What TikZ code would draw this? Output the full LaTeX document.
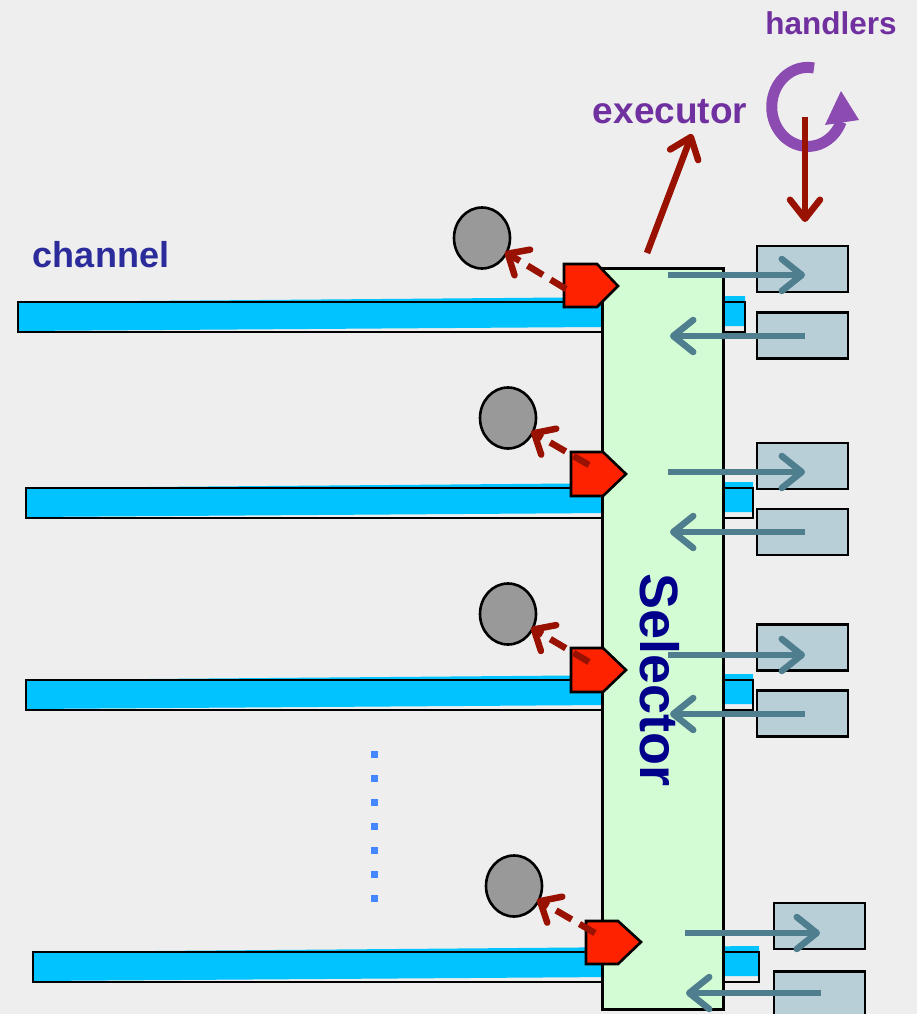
\documentclass[tikz,border=0pt]{standalone}
\usepackage{fontspec}
\setmainfont{Liberation Sans}
\usetikzlibrary{arrows.meta,shapes.geometric}
\definecolor{bg}{HTML}{EEEEEE}
\definecolor{chcyan}{HTML}{00C3FF}
\definecolor{selfill}{HTML}{D4FCD4}
\definecolor{tagred}{HTML}{FF2200}
\definecolor{darkred}{HTML}{991100}
\definecolor{ballgray}{HTML}{999999}
\definecolor{hbox}{HTML}{B8CFD8}
\definecolor{teal}{HTML}{4F7F8F}
\definecolor{purpletext}{HTML}{7030A0}
\definecolor{purpleloop}{HTML}{8B4BB0}
\definecolor{chtext}{HTML}{2B2B9B}
\definecolor{seltext}{HTML}{00008B}
\definecolor{dotblue}{HTML}{4488FF}
\tikzset{
  outline/.style={draw=black, line width=2.6pt},
  ball/.style={ellipse, draw=black, line width=2.6pt, fill=ballgray, minimum width=56pt, minimum height=61pt, inner sep=0pt},
  handlerbox/.style={draw=black, line width=2.6pt, fill=hbox, minimum width=91pt, minimum height=46pt, inner sep=0pt},
  tag/.style={draw=black, line width=2.6pt, fill=tagred, line join=miter},
  dasharrow/.style={draw=darkred, line width=6.5pt, dash pattern=on 18pt off 9pt, -{Straight Barb[length=17pt, width=30pt, line cap=round, line join=round]}, shorten >=-3pt},
  tealarrow/.style={draw=teal, line width=6.5pt, -{Straight Barb[length=20pt, width=32pt, line cap=round, line join=round]}},
  redarrow/.style={draw=darkred, line width=6.5pt, -{Straight Barb[length=19pt, width=30pt, line cap=round, line join=round]}},
  lbl/.style={font=\bfseries\fontsize{36}{40}\selectfont, inner sep=0pt, anchor=base},
}
\begin{document}
\begin{tikzpicture}[x=1pt, y=-1pt]
\fill[bg] (0,0) rectangle (917,1014);
\useasboundingbox (0,0) rectangle (917,1014);

% channels
\fill[chcyan] (18,302) -- (745,296) -- (745,326) -- (18,331) -- cycle;
\draw[outline] (18,302) rectangle (745,332);
\fill[chcyan] (26,488) -- (753,482) -- (753,512) -- (26,517) -- cycle;
\draw[outline] (26,488) rectangle (753,518);
\fill[chcyan] (26,680) -- (753,674) -- (753,704) -- (26,709) -- cycle;
\draw[outline] (26,680) rectangle (753,710);
\fill[chcyan] (33,952) -- (759,946) -- (759,976) -- (33,981) -- cycle;
\draw[outline] (33,952) rectangle (759,982);

% selector
\node[draw=black, line width=2.6pt, fill=selfill, minimum width=121pt, minimum height=741pt, inner sep=0pt, anchor=north west] (sel) at (601,267) {};
\node[font=\bfseries\fontsize{54}{60}\selectfont, text=seltext, rotate=-90, inner sep=0pt] (seltxt) at (660,680) {Selector};

% balls
\node[ball] (c1) at (482,238) {};
\node[ball] (c2) at (508,418) {};
\node[ball] (c3) at (508,614) {};
\node[ball] (c4) at (514,886) {};

% tags
\draw[tag] (564,264) -- (597,264) -- (618,286) -- (597,307) -- (564,307) -- cycle;
\draw[tag] (571,452) -- (603,452) -- (626,474) -- (603,496) -- (571,496) -- cycle;
\draw[tag] (571,648) -- (603,648) -- (626,670) -- (603,692) -- (571,692) -- cycle;
\draw[tag] (586,921) -- (618,921) -- (641,942) -- (618,964) -- (586,964) -- cycle;
\coordinate (p1) at (566,289);
\coordinate (p2) at (589,465);
\coordinate (p3) at (589,662);
\coordinate (p4) at (595,933);
\draw[dasharrow] (p1) -- (c1);
\draw[dasharrow] (p2) -- (c2);
\draw[dasharrow] (p3) -- (c3);
\draw[dasharrow] (p4) -- (c4);

% handler boxes
\node[handlerbox] (h1a) at (802.5,269) {};
\node[handlerbox] (h1b) at (802.5,335.5) {};
\node[handlerbox] (h2a) at (802.5,466) {};
\node[handlerbox] (h2b) at (802.5,532) {};
\node[handlerbox] (h3a) at (802.5,647.5) {};
\node[handlerbox] (h3b) at (802.5,713.5) {};
\node[handlerbox] (h4a) at (819.5,926) {};
\node[handlerbox, anchor=north] (h4b) at (819.5,970) {};

% teal arrows
\coordinate (s1a) at (668,275); \coordinate (e1a) at (805,275);
\coordinate (s1b) at (805,336); \coordinate (e1b) at (670,336);
\coordinate (s2a) at (668,472); \coordinate (e2a) at (805,472);
\coordinate (s2b) at (805,532); \coordinate (e2b) at (670,532);
\coordinate (s3a) at (668,655); \coordinate (e3a) at (805,655);
\coordinate (s3b) at (805,714); \coordinate (e3b) at (670,714);
\coordinate (s4a) at (685,933); \coordinate (e4a) at (820,933);
\coordinate (s4b) at (821,993); \coordinate (e4b) at (686,993);
\draw[tealarrow] (s1a) -- (e1a);
\draw[tealarrow] (s1b) -- (e1b);
\draw[tealarrow] (s2a) -- (e2a);
\draw[tealarrow] (s2b) -- (e2b);
\draw[tealarrow] (s3a) -- (e3a);
\draw[tealarrow] (s3b) -- (e3b);
\draw[tealarrow] (s4a) -- (e4a);
\draw[tealarrow] (s4b) -- (e4b);

% dots
\foreach \yy in {754,778,802,826,850,874,898}
  \fill[dotblue] (371,\yy-3.5) rectangle (378,\yy+3.5);

% labels
\node[lbl, text=chtext] (chlabel) at (101,267) {channel};
\node[lbl, text=purpletext, font=\bfseries\fontsize{37}{40}\selectfont] (exlabel) at (670,124) {executor};
\node[lbl, text=purpletext, font=\bfseries\fontsize{31.5}{36}\selectfont] (hdlabel) at (831,35) {handlers};

% executor arrow
\coordinate (exstart) at (647,253);
\coordinate (exend) at (692,134);
\draw[redarrow] (exstart) -- (exend);

% handlers loop
\draw[purpleloop, line width=11pt] (814,68) arc[start angle=-80, end angle=-338, x radius=36, y radius=39.5];
\fill[purpleloop] (825,125) -- (859,120) -- (841,91) -- cycle;

% down arrow
\coordinate (dnstart) at (805,117);
\coordinate (dnend) at (805,222);
\draw[redarrow] (dnstart) -- (dnend);
\end{tikzpicture}
\end{document}
